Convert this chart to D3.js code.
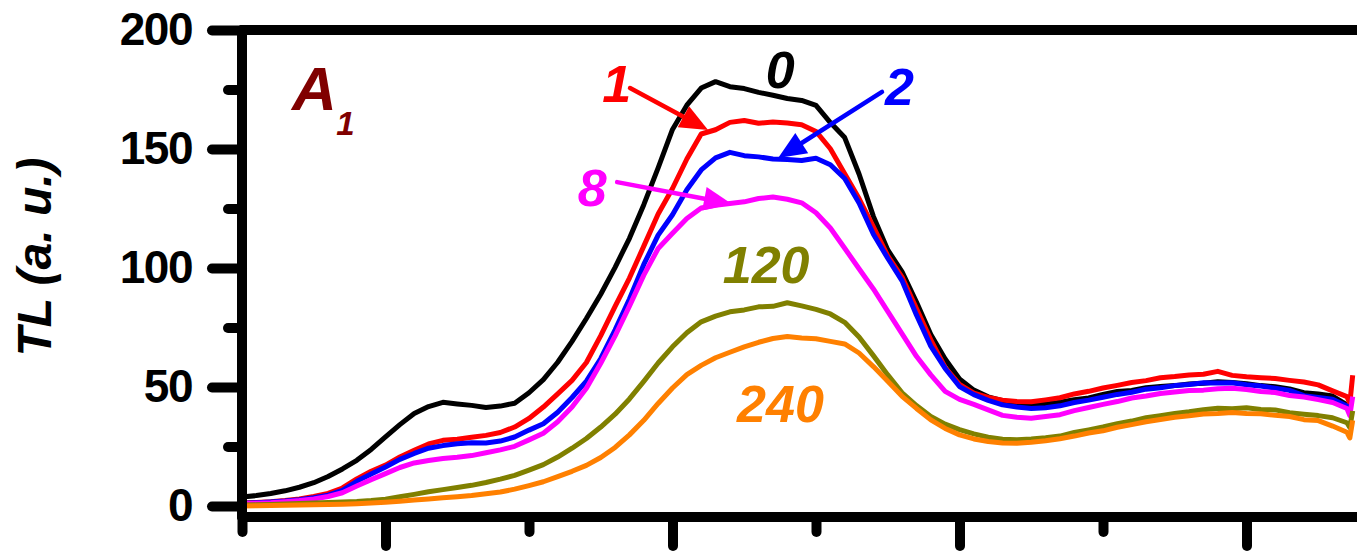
<!DOCTYPE html>
<html>
<head>
<meta charset="utf-8">
<script src="https://cdn.jsdelivr.net/npm/d3@7"></script>
<style>
  body { margin: 0; background: #fff; }
  svg { display: block; font-family: "Liberation Sans", Arial, sans-serif; }
</style>
</head>
<body>
<svg id="chart" width="1357" height="554"></svg>
<script>
// temperature grid of the glow curves (no x labels survive in the crop)
const temps = [50,55,60,65,70,75,80,85,90,95,100,105,110,115,120,125,130,135,140,145,
  150,155,160,165,170,175,180,185,190,195,200,205,210,215,220,225,230,235,240,245,
  250,255,260,265,270,275,280,285,290,295,300,305,310,315,320,325,330,335,340,345,
  350,355,360,365,370,375,380,385,390,395,400,405,410,415,420,425,430,435,436,437];

// TL intensity, one array per storage time
const tl0 = [3.8,4.4,5.3,6.4,7.9,9.8,12.4,15.6,19.2,23.8,29.1,34.2,38.9,41.8,43.6,42.9,42.3,41.4,42.0,43.2,
  47.6,53.1,60.4,69.2,78.8,89.0,100.3,112.5,126.6,142.1,158.2,168.4,175.6,178.3,176.2,175.4,173.8,172.6,171.2,170.4,
  168.3,161.1,154.8,139.5,121.7,107.6,98.4,85.7,72.1,61.8,53.4,48.7,45.9,44.3,43.1,42.6,42.8,43.6,44.7,45.4,
  46.9,48.1,48.6,49.7,50.2,50.6,51.3,51.6,52.2,51.9,51.4,50.6,50.1,49.2,47.6,47.1,46.2,42.5,40.2,40.5];
const tl1 = [1.3,1.5,1.8,2.3,3.0,4.0,5.3,7.6,11.4,14.6,17.2,20.6,23.4,26.1,27.6,28.1,28.9,29.7,30.9,33.2,
  36.8,41.6,47.1,52.8,60.3,71.6,83.9,95.8,109.2,122.7,133.4,145.8,156.3,158.1,161.2,162.0,160.8,161.3,160.9,160.2,
  157.4,150.1,139.6,129.2,117.3,105.1,96.2,83.0,69.8,58.2,51.1,47.4,45.6,44.5,43.9,43.8,44.6,45.5,47.1,48.2,
  49.6,50.7,51.9,52.7,53.9,54.4,55.1,55.4,56.6,54.9,54.3,53.9,53.6,52.8,52.1,50.9,48.4,46.0,43.1,55.0];
const tl2 = [1.2,1.4,1.7,2.1,2.7,3.5,4.6,6.6,10.4,13.5,16.4,19.6,22.1,24.3,25.4,26.2,26.6,26.5,27.3,29.0,
  31.9,34.6,39.4,45.6,52.5,62.0,74.0,87.0,101.5,113.8,122.4,132.9,141.2,146.3,148.6,147.2,146.7,145.8,145.6,145.2,
  146.1,143.4,137.6,127.3,114.2,104.1,94.6,80.3,67.2,57.8,50.2,46.8,44.4,42.5,41.6,41.0,41.3,42.1,43.5,44.5,
  45.7,46.9,47.8,49.1,49.7,50.6,51.1,51.8,51.7,51.8,51.0,50.4,49.5,48.6,46.4,45.6,44.9,42.0,39.6,40.1];
const tl8 = [1.0,1.2,1.4,1.8,2.3,3.0,4.0,5.6,8.4,11.1,13.6,16.2,18.1,19.1,20.0,20.5,21.2,22.4,23.6,25.1,
  27.8,30.6,35.4,41.6,49.5,60.0,71.5,84.0,97.0,108.2,114.6,120.8,125.2,126.4,127.1,127.8,129.2,129.8,128.9,127.4,
  123.2,116.8,108.3,99.7,91.2,81.8,72.3,62.9,55.1,48.2,44.8,42.7,40.4,38.1,37.3,36.9,37.6,38.4,40.1,41.4,
  42.7,43.9,45.4,46.2,47.3,47.9,48.5,48.7,49.3,49.5,49.0,48.1,47.7,46.4,45.8,44.7,43.5,41.0,38.0,46.0];
const tl120 = [0.4,0.5,0.7,0.9,1.1,1.3,1.5,1.7,1.9,2.3,2.9,3.9,4.9,6.0,6.9,7.8,8.7,9.9,11.3,12.9,
  15.1,17.4,20.6,24.3,28.4,33.2,38.6,45.0,52.4,60.1,66.9,72.8,77.4,79.8,81.6,82.4,83.7,83.9,85.4,84.1,
  82.6,80.7,77.2,71.0,63.2,55.1,47.6,42.2,37.6,34.4,32.1,30.3,28.9,28.1,27.9,28.2,28.7,29.4,30.9,32.0,
  33.2,34.6,35.7,37.1,38.0,38.9,39.6,40.5,41.1,40.9,41.3,40.6,40.4,39.2,38.6,38.0,37.1,35.0,33.0,40.0];
const tl240 = [0.0,0.1,0.2,0.3,0.4,0.5,0.6,0.8,1.0,1.3,1.6,2.0,2.5,3.0,3.5,3.9,4.4,5.2,5.9,7.1,
  8.6,10.2,12.4,14.6,17.1,20.4,24.6,29.9,36.0,43.1,49.6,55.2,59.1,62.3,64.6,66.9,68.8,70.4,71.2,70.6,
  70.3,69.2,68.1,64.3,58.6,52.4,46.1,41.0,36.2,32.6,29.9,28.2,27.1,26.5,26.4,26.8,27.4,28.3,29.4,30.7,
  31.6,33.1,34.2,35.4,36.4,37.3,37.9,38.7,38.9,39.3,38.9,38.8,38.1,37.6,36.3,35.9,33.6,31.0,28.6,36.0];

const seriesNames = ["0", "1", "2", "8", "120", "240"];
const seriesColors = ["#000000", "#ff0000", "#0000ff", "#ff00ff", "#808000", "#ff8000"];
const seriesValues = [tl0, tl1, tl2, tl8, tl120, tl240];

const yMajor = [0, 50, 100, 150, 200];
const yMinor = [25, 75, 125, 175];
const xMajor = [100, 200, 300, 400];
const xMinor = [50, 150, 250, 350];

// label anchors in data units: [temp, TL]
const labelPos = [[232.5, 175.6], [175.5, 169.7], [274, 168.5], [167, 126], [217.5, 93.7], [222.5, 35.3]];
// arrows [from, to] for curves 1, 2 and 8
const arrows = [
  {name: "1", from: [185.2, 175.6], to: [212.4, 158.0]},
  {name: "2", from: [273.0, 174.0], to: [236.8, 146.2]},
  {name: "8", from: [180.7, 136.1], to: [220.7, 126.9]}
];

const svg = d3.select("#chart");
const yMin = -4.6;

const x = d3.scaleLinear().domain([50, 450]).range([242, 1390]);
const y = d3.scaleLinear().domain([yMin, 200]).range([517, 30]);

const axisWidth = 10;

// curves
const line = d3.line()
    .x((d, i) => x(temps[i]))
    .y(d => y(d));

seriesValues.forEach(function(vals, k) {
    svg.append("path")
        .datum(vals)
        .attr("d", line)
        .attr("fill", "none")
        .attr("stroke", seriesColors[k])
        .attr("stroke-width", 5)
        .attr("stroke-linejoin", "round");
});

// frame lines
function frameLine(x1, y1, x2, y2) {
    svg.append("line")
        .attr("x1", x1).attr("y1", y1)
        .attr("x2", x2).attr("y2", y2)
        .attr("stroke", "#000")
        .attr("stroke-width", axisWidth)
        .attr("stroke-linecap", "round");
}
frameLine(x(50), y(200), x(450), y(200));
frameLine(x(50), y(200), x(50), y(yMin));
frameLine(x(50), y(yMin), x(450), y(yMin));

function styleAxis(g) {
    g.select(".domain").remove();
    g.selectAll(".tick line")
        .attr("stroke", "#000")
        .attr("stroke-width", axisWidth)
        .attr("stroke-linecap", "round");
}

// y axis
svg.append("g")
    .attr("transform", `translate(${x(50)},0)`)
    .call(d3.axisLeft(y).tickValues(yMajor).tickSize(30).tickPadding(20).tickFormat(d3.format("d")))
    .call(styleAxis)
    .call(g => g.selectAll(".tick text")
        .attr("fill", "#000")
        .style("font-size", "46px")
        .style("font-weight", "bold")
        .style("letter-spacing", "-1.5px"));

svg.append("g")
    .attr("transform", `translate(${x(50)},0)`)
    .call(d3.axisLeft(y).tickValues(yMinor).tickSize(14).tickFormat(""))
    .call(styleAxis);

// x axis (labels are cut off in the source)
svg.append("g")
    .attr("transform", `translate(0,${y(yMin)})`)
    .call(d3.axisBottom(x).tickValues(xMajor).tickSize(29).tickFormat(""))
    .call(styleAxis);

svg.append("g")
    .attr("transform", `translate(0,${y(yMin)})`)
    .call(d3.axisBottom(x).tickValues(xMinor).tickSize(15).tickFormat(""))
    .call(styleAxis);

// y title
svg.append("text")
    .attr("transform", `translate(51,${(y(0) + y(200)) / 2 - 11}) rotate(-90)`)
    .attr("text-anchor", "middle")
    .style("font-size", "48px")
    .style("font-weight", "bold")
    .style("font-style", "italic")
    .text("TL (a. u.)");

// panel tag
const tag = svg.append("text")
    .attr("x", x(67.4))
    .attr("y", y(166.4))
    .attr("fill", "#800000")
    .style("font-weight", "bold")
    .style("font-style", "italic");
tag.append("tspan").style("font-size", "62px").text("A");
tag.append("tspan").attr("x", x(82.8)).attr("y", y(155.9)).style("font-size", "33px").text("1");

// arrows
arrows.forEach(function(a) {
    const k = seriesNames.indexOf(a.name);
    const x1 = x(a.from[0]), y1 = y(a.from[1]);
    const x2 = x(a.to[0]), y2 = y(a.to[1]);
    const ang = Math.atan2(y2 - y1, x2 - x1);
    const headLen = 28, headW = 12;
    const bx = x2 - headLen * Math.cos(ang), by = y2 - headLen * Math.sin(ang);
    svg.append("line")
        .attr("x1", x1).attr("y1", y1)
        .attr("x2", bx).attr("y2", by)
        .attr("stroke", seriesColors[k])
        .attr("stroke-width", 4.5)
        .attr("stroke-linecap", "round");
    const pts = [
        [x2, y2],
        [bx + headW * Math.sin(ang), by - headW * Math.cos(ang)],
        [bx - headW * Math.sin(ang), by + headW * Math.cos(ang)]
    ];
    svg.append("polygon")
        .attr("points", pts.map(p => p.join(",")).join(" "))
        .attr("fill", seriesColors[k]);
});

// curve labels
seriesNames.forEach(function(name, k) {
    svg.append("text")
        .attr("x", x(labelPos[k][0]))
        .attr("y", y(labelPos[k][1]))
        .attr("fill", seriesColors[k])
        .style("font-size", "52px")
        .style("font-weight", "bold")
        .style("font-style", "italic")
        .text(name);
});
</script>
</body>
</html>
